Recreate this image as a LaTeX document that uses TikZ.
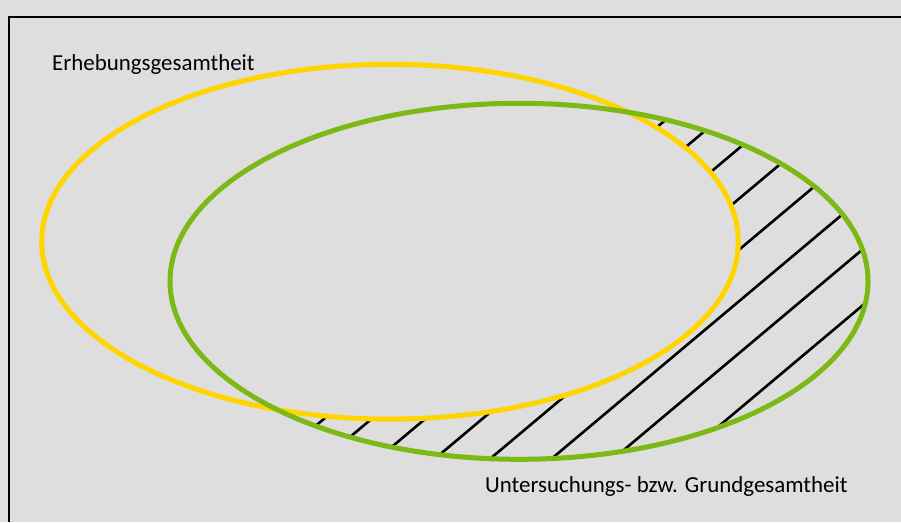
\documentclass[tikz,border=0pt]{standalone}
\usepackage{fontspec}
\setmainfont{Carlito}
\definecolor{bg}{RGB}{222,222,222}
\definecolor{ygold}{RGB}{255,213,0}
\definecolor{lgreen}{RGB}{124,184,22}
\begin{document}
\begin{tikzpicture}[x=1pt,y=-1pt,
  hatch/.style={black,line width=2.6pt},
  setline/.style={line width=5pt},
  lbl/.style={anchor=base west,inner sep=0pt,font=\fontsize{22.9pt}{26pt}\selectfont,text=black}]
\fill[bg] (0,0) rectangle (901,522);
\useasboundingbox (0,0) rectangle (901,522);
% frame (top and left only)
\draw[line width=2.3pt] (9,522) -- (9,17) -- (901,17);
% hatching inside green, outside yellow
\begin{scope}
  \clip (519,281.3) ellipse [x radius=349pt, y radius=178pt];
  \begin{scope}
    \clip (0,0) rectangle (901,330);
    \foreach \c in {679,723,769,819.5}
      \draw[hatch] (150,{\c-126}) -- (900,{\c-756});
  \end{scope}
  \begin{scope}
    \clip (0,330) rectangle (901,522);
    \foreach \c in {691,731,776,824}
      \draw[hatch] (150,{\c-126}) -- (900,{\c-756});
  \end{scope}
  \foreach \c in {870.5,922,974,1030}
    \draw[hatch] (150,{\c-126}) -- (900,{\c-756});
\end{scope}
\fill[bg] (390,241.7) ellipse [x radius=348.3pt, y radius=177.4pt];
% sets
\draw[setline,ygold] (390,241.7) ellipse [x radius=348.3pt, y radius=177.4pt];
\draw[setline,lgreen] (519,281.3) ellipse [x radius=349pt, y radius=178pt];
% labels
\node[lbl] (erh) at (52,70) {Erhebungsgesamtheit};
\node[lbl] (unt) at (485,492.7) {Untersuchungs- bzw. Grundgesamtheit};
\end{tikzpicture}
\end{document}
